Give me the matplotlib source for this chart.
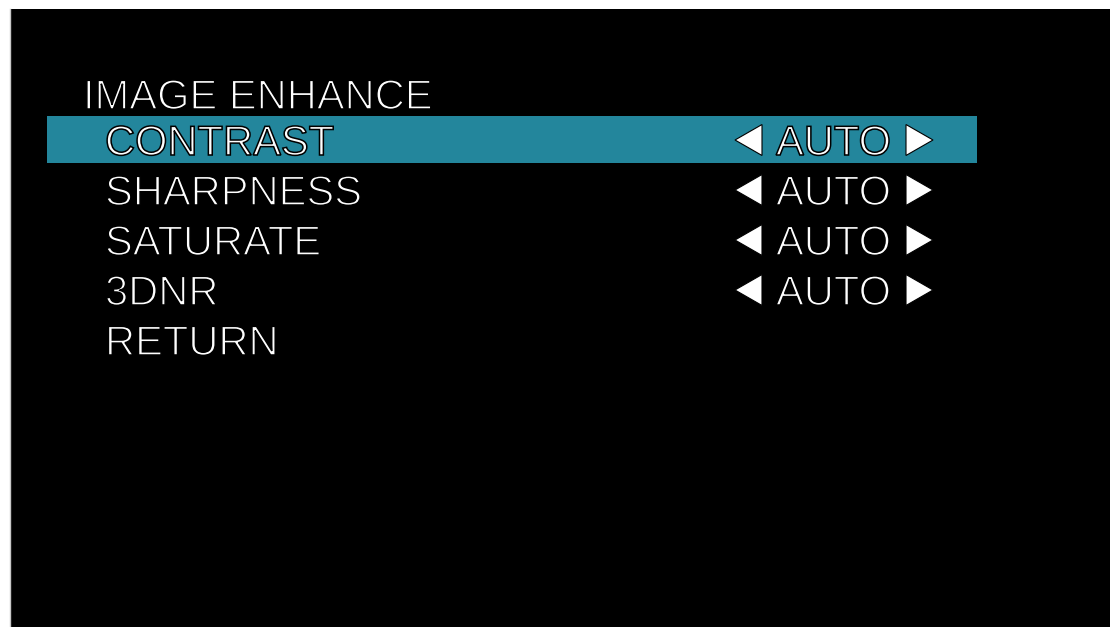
import matplotlib
matplotlib.use("Agg")
import matplotlib.pyplot as plt
import matplotlib.patheffects as pe
from matplotlib.patches import Rectangle, Polygon

title = "IMAGE ENHANCE"
items = ["CONTRAST", "SHARPNESS", "SATURATE", "3DNR", "RETURN"]
values = ["AUTO", "AUTO", "AUTO", "AUTO", None]
selected = 0

W, H = 1110, 627
fig = plt.figure(figsize=(W / 100, H / 100), dpi=100, facecolor="white")
ax = fig.add_axes([0, 0, 1, 1])
ax.set_xlim(0, W)
ax.set_ylim(H, 0)
ax.axis("off")

# black screen
ax.add_patch(Rectangle((10, 9), W - 10, H - 9, facecolor="black", edgecolor="none"))
ax.plot([9.5, 9.5], [9, H], color="#c8c8c8", lw=1)

font = "Liberation Sans"
fs = 30
stroke = [pe.PathPatchEffect(facecolor="white", edgecolor="black", linewidth=1.1)]

ax.text(83, 109, title, fontsize=fs, color="white", family=font,
        va="baseline", ha="left", path_effects=stroke)

row_h = 50
base0 = 155
for i, (name, val) in enumerate(zip(items, values)):
    base = base0 + i * row_h
    cy = base - 15
    if i == selected:
        ax.add_patch(Rectangle((47, 116), 930, 47, facecolor="#23869c",
                               edgecolor="none"))
    ax.text(105, base, name, fontsize=fs, color="white", family=font,
            va="baseline", ha="left", path_effects=stroke)
    if val is not None:
        ax.text(776, base, val, fontsize=fs, color="white", family=font,
                va="baseline", ha="left", path_effects=stroke)
        ax.add_patch(Polygon([(735, cy), (762, cy - 15.5), (762, cy + 15.5)],
                             closed=True, facecolor="white", edgecolor="black", lw=0.8))
        ax.add_patch(Polygon([(933, cy), (906, cy - 15.5), (906, cy + 15.5)],
                             closed=True, facecolor="white", edgecolor="black", lw=0.8))

fig.savefig("out.png", dpi=100, facecolor="white")
